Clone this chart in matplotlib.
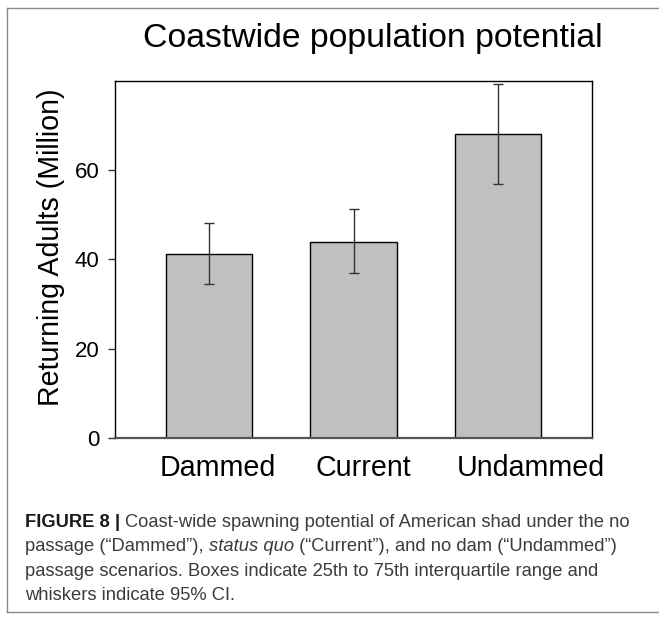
import numpy as np
import matplotlib
matplotlib.use('Agg')
import matplotlib.pyplot as plt
from matplotlib.lines import Line2D

plt.rcParams['font.family'] = ['Liberation Sans', 'DejaVu Sans']

# Scenario estimates (million returning adults)
scenarios = ['Dammed', 'Current', 'Undammed']
median_adults = [41.3, 44.0, 68.2]
ci_low = [34.5, 37.0, 57.0]
ci_high = [48.1, 51.2, 79.3]
y_ticks = [0, 20, 40, 60]
# label anchors along x (data units), slightly off the bar centres
label_x = [0.064, 1.066, 2.228]

caption_lines = [
    [("FIGURE 8 | ", 'bold', 'normal'),
     ("Coast-wide spawning potential of American shad under the no", 'normal', 'normal')],
    [("passage (\u201cDammed\u201d), ", 'normal', 'normal'),
     ("status quo", 'normal', 'italic'),
     (" (\u201cCurrent\u201d), and no dam (\u201cUndammed\u201d)", 'normal', 'normal')],
    [("passage scenarios. Boxes indicate 25th to 75th interquartile range and", 'normal', 'normal')],
    [("whiskers indicate 95% CI.", 'normal', 'normal')],
]

W, H = 659, 621
fig = plt.figure(figsize=(W / 100, H / 100), dpi=100)

ax = fig.add_axes([115 / W, 1 - 437.7 / H, (592 - 115) / W, (437.7 - 81) / H])
x = np.arange(len(scenarios))
vals = np.array(median_adults)
yerr = np.array([vals - np.array(ci_low), np.array(ci_high) - vals])
ax.bar(x, vals, width=0.6, color='#c0c0c0', edgecolor='black', linewidth=1.0, zorder=2)
ax.errorbar(x, vals, yerr=yerr, fmt='none', ecolor='#333333', elinewidth=1.0,
            capsize=3.6, capthick=1.0, zorder=3)

ax.set_xlim(-0.65, 2.65)
ax.set_ylim(0, 80)
ax.set_yticks(y_ticks)
ax.set_xticks([])
for xl, name in zip(label_x, scenarios):
    ax.text(xl, -0.045, name, fontsize=20.6, ha='center', va='top',
            transform=ax.get_xaxis_transform())
ax.tick_params(axis='y', labelsize=16, length=5, width=1, direction='out', pad=6, color='#333333')
for s in ['top', 'right', 'left']:
    ax.spines[s].set_linewidth(1.0)
ax.spines['bottom'].set_color('#555555')
ax.spines['bottom'].set_linewidth(1.6)
ax.set_ylabel('Returning Adults (Million)', fontsize=20.6)
ax.yaxis.set_label_coords(-0.105, 0.533)

fig.text(373 / W, 1 - 38.5 / H, 'Coastwide population potential', fontsize=24.3,
         ha='center', va='center')

# outer frame: left, top and bottom edges only
frame = dict(color='#8a8a8a', linewidth=1.0, transform=fig.transFigure)
fig.lines.append(Line2D([7 / W, 7 / W], [1 - 8 / H, 1 - 612 / H], **frame))
fig.lines.append(Line2D([7 / W, 1.0], [1 - 8 / H, 1 - 8 / H], **frame))
fig.lines.append(Line2D([7 / W, 1.0], [1 - 612 / H, 1 - 612 / H], **frame))

# caption, drawn piece by piece so the fonts can mix on one line
fig.canvas.draw()
renderer = fig.canvas.get_renderer()
baselines = [527, 551, 576, 600]
for line, yb in zip(caption_lines, baselines):
    xpos = 25
    for text, weight, style in line:
        color = '#1a1a1a' if weight == 'bold' else '#3c3c3c'
        t = fig.text(xpos / W, 1 - yb / H, text, fontsize=13.2, fontweight=weight,
                     fontstyle=style, color=color, ha='left', va='baseline')
        bb = t.get_window_extent(renderer=renderer)
        xpos += bb.width

fig.savefig('out.png', dpi=100)
